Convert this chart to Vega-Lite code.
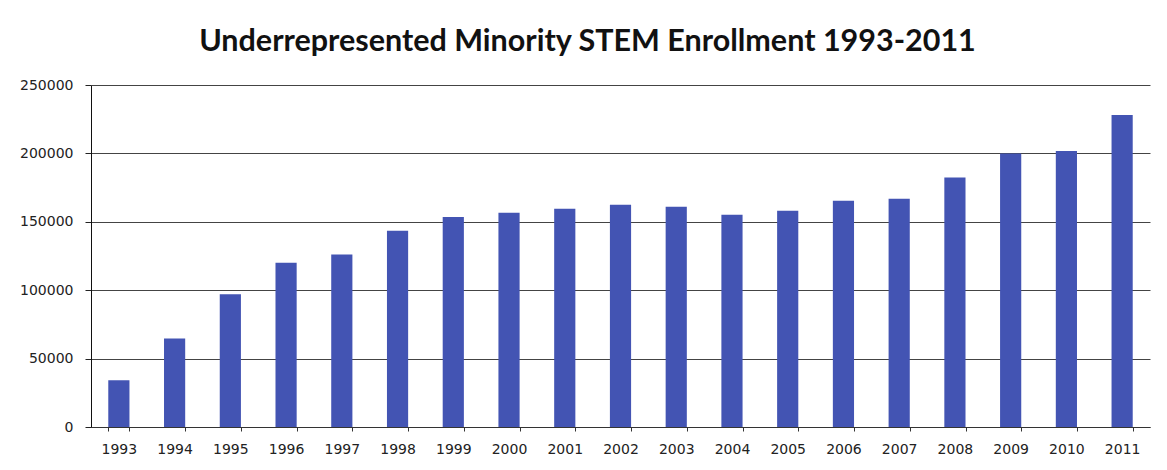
{
  "$schema": "https://vega.github.io/schema/vega-lite/v6.json",
  "width": 1059,
  "height": 342,
  "autosize": {"type": "none"},
  "padding": {"left": 91, "top": 85, "right": 17, "bottom": 43},
  "background": "white",
  "title": {
    "text": "Underrepresented Minority STEM Enrollment 1993-2011",
    "font": "Lato",
    "fontSize": 30.5,
    "fontWeight": "bold",
    "color": "#111111",
    "anchor": "middle",
    "frame": "group",
    "baseline": "alphabetic",
    "offset": 27,
    "dy": 30,
    "dx": -33
  },
  "data": {
    "values": [
      {"year": "1993", "enrollment": 34200},
      {"year": "1994", "enrollment": 64700},
      {"year": "1995", "enrollment": 97100},
      {"year": "1996", "enrollment": 120000},
      {"year": "1997", "enrollment": 126100},
      {"year": "1998", "enrollment": 143400},
      {"year": "1999", "enrollment": 153600},
      {"year": "2000", "enrollment": 156600},
      {"year": "2001", "enrollment": 159500},
      {"year": "2002", "enrollment": 162400},
      {"year": "2003", "enrollment": 161000},
      {"year": "2004", "enrollment": 155100},
      {"year": "2005", "enrollment": 158000},
      {"year": "2006", "enrollment": 165400},
      {"year": "2007", "enrollment": 166900},
      {"year": "2008", "enrollment": 182400},
      {"year": "2009", "enrollment": 200000},
      {"year": "2010", "enrollment": 201700},
      {"year": "2011", "enrollment": 228000}
    ]
  },
  "mark": {"type": "bar", "color": "#4354b3"},
  "encoding": {
    "x": {
      "field": "year",
      "type": "ordinal",
      "scale": {"paddingInner": 0.62, "paddingOuter": 0.31},
      "axis": {
        "title": null,
        "labelAngle": 0,
        "labelFont": "DejaVu Sans",
        "labelFontSize": 14,
        "labelColor": "#222222",
        "labelPadding": 11,
        "tickBand": "extent",
        "tickSize": 4,
        "tickColor": "#333333",
        "domainColor": "#333333",
        "grid": false
      }
    },
    "y": {
      "field": "enrollment",
      "type": "quantitative",
      "scale": {"domain": [0, 250000], "nice": false},
      "axis": {
        "title": null,
        "values": [0, 50000, 100000, 150000, 200000, 250000],
        "format": "d",
        "labelFont": "DejaVu Sans",
        "labelFontSize": 14,
        "labelColor": "#222222",
        "labelPadding": 12,
        "tickSize": 6,
        "tickColor": "#222222",
        "domainColor": "#111111",
        "grid": true,
        "gridColor": "#444444",
        "gridWidth": 1
      }
    }
  },
  "config": {"view": {"stroke": null}}
}
